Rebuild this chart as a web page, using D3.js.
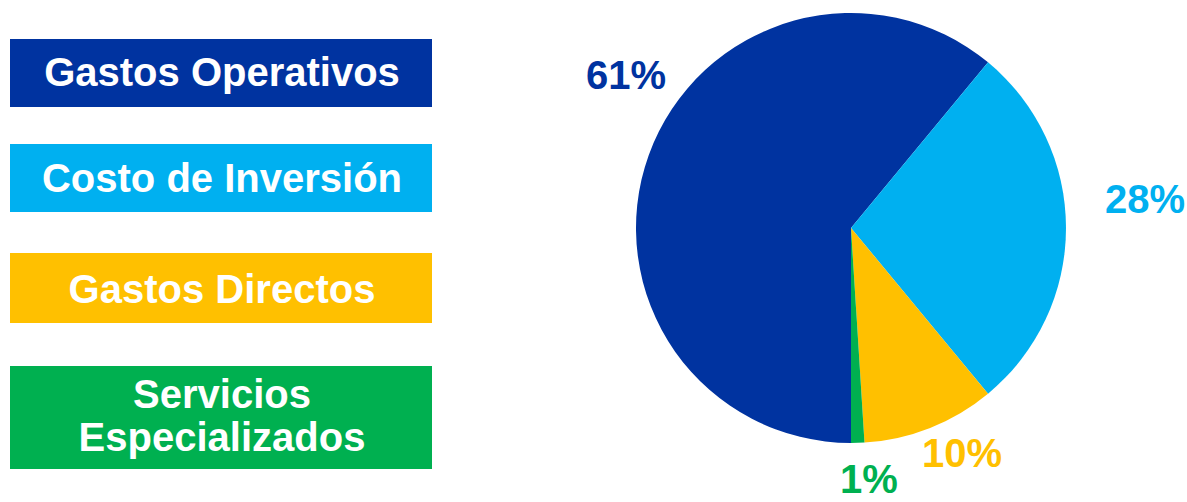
<!DOCTYPE html>
<html><head><meta charset="utf-8">
<script src="https://cdn.jsdelivr.net/npm/d3@7"></script>
<style>html,body{margin:0;padding:0;background:#fff;}svg{display:block;}</style>
</head><body>
<script>
const categories = ["Gastos Operativos", "Costo de Inversión", "Gastos Directos", "Servicios Especializados"];
const legendLines = [["Gastos Operativos"], ["Costo de Inversión"], ["Gastos Directos"], ["Servicios", "Especializados"]];
const values = [61, 28, 10, 1];
const labels = ["61%", "28%", "10%", "1%"];
const colors = ["#0033A0", "#00B0F0", "#FFC000", "#00B050"];

const W = 1187, H = 502;
const svg = d3.select("body").append("svg").attr("width", W).attr("height", H);
const font = "'Liberation Sans', Arial, sans-serif";

// legend boxes
const boxes = [
  {y: 39, h: 68, base: [86]},
  {y: 144, h: 68, base: [192]},
  {y: 253, h: 70, base: [303]},
  {y: 366, h: 103, base: [408, 451]}
];
const color = d3.scaleOrdinal().domain(categories).range(colors);
const lg = svg.append("g");
categories.forEach((c, i) => {
  const b = boxes[i];
  lg.append("rect").attr("x", 10).attr("y", b.y).attr("width", 422).attr("height", b.h).attr("fill", color(c));
  legendLines[i].forEach((t, j) => {
    lg.append("text").attr("x", 222).attr("y", b.base[j]).attr("text-anchor", "middle")
      .attr("font-family", font).attr("font-weight", "bold").attr("font-size", 40)
      .attr("fill", "#fff").text(t);
  });
});

// pie
const cx = 851, cy = 228, R = 215;
const pie = d3.pie().sort(null).startAngle(Math.PI).endAngle(3 * Math.PI);
const arcs = pie(values);
const arc = d3.arc().innerRadius(0).outerRadius(R);
const g = svg.append("g").attr("transform", `translate(${cx},${cy})`);
g.selectAll("path").data(arcs).join("path")
  .attr("d", arc).attr("fill", (d, i) => color(categories[i]));

// percent labels (positioned outside slices)
const labelPos = [[626, 89], [1145, 213], [962, 467], [869, 493]];
svg.selectAll("text.pct").data(arcs).join("text").attr("class", "pct")
  .attr("x", (d, i) => labelPos[i][0]).attr("y", (d, i) => labelPos[i][1])
  .attr("text-anchor", "middle").attr("font-family", font).attr("font-weight", "bold")
  .attr("font-size", 40).attr("fill", (d, i) => color(categories[i]))
  .text((d, i) => labels[i]);
</script>
</body></html>
